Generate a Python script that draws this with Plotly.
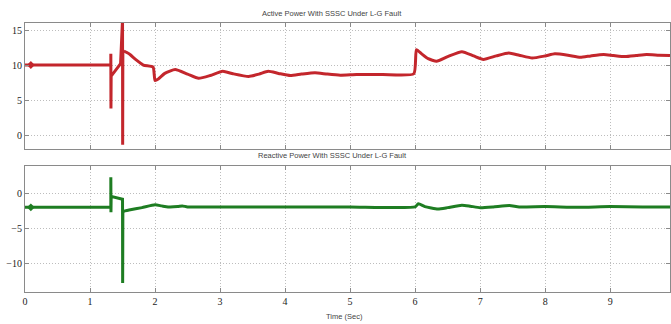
import plotly.graph_objects as go
from plotly.subplots import make_subplots

# Active power (top panel)
t_active = [0, 1.32, 1.32, 1.322, 1.325, 1.47, 1.50, 1.502, 1.505, 1.52, 1.6, 1.7, 1.82, 1.97,
            2.0, 2.05, 2.15, 2.31, 2.5, 2.67, 2.85, 3.04, 3.2, 3.44, 3.6, 3.74, 3.9, 4.08, 4.25,
            4.46, 4.65, 4.85, 5.1, 5.5, 5.98, 6.02, 6.1, 6.2, 6.33, 6.5, 6.72, 6.9, 7.05, 7.25,
            7.44, 7.6, 7.8, 8.0, 8.15, 8.35, 8.54, 8.7, 8.9, 9.05, 9.23, 9.4, 9.56, 9.75, 9.92]
p_active = [10, 10, 11.6, 3.8, 8.4, 10.2, 16.5, -1.4, 12.0, 12.0, 11.6, 10.8, 10.0, 9.7,
            7.8, 8.0, 8.8, 9.35, 8.7, 8.1, 8.5, 9.1, 8.75, 8.37, 8.7, 9.1, 8.8, 8.5, 8.7,
            8.9, 8.7, 8.55, 8.65, 8.65, 8.75, 12.2, 11.6, 10.9, 10.55, 11.2, 11.9, 11.3, 10.8, 11.3,
            11.7, 11.4, 11.0, 11.3, 11.6, 11.4, 11.1, 11.3, 11.5, 11.35, 11.2, 11.35, 11.5, 11.4, 11.35]

# Reactive power (bottom panel)
t_reactive = [0, 1.32, 1.32, 1.322, 1.325, 1.35, 1.48, 1.50, 1.502, 1.505, 1.6, 1.8, 2.0, 2.1,
              2.2, 2.35, 2.42, 2.5, 3.0, 4.0, 5.0, 6.0, 6.05, 6.15, 6.35, 6.5, 6.72, 6.85, 7.0,
              7.2, 7.45, 7.6, 8.0, 8.5, 9.0, 9.5, 9.92]
q_reactive = [-1.9, -1.9, 2.4, -2.6, -0.5, -0.4, -0.75, -0.75, -12.7, -2.5, -2.3, -1.95, -1.55, -1.7,
              -1.85, -1.8, -1.7, -1.85, -1.85, -1.85, -1.85, -1.85, -1.4, -1.8, -2.15, -1.95, -1.6, -1.75, -1.95,
              -1.85, -1.65, -1.85, -1.8, -1.9, -1.8, -1.85, -1.85]

x_ticks = [0, 1, 2, 3, 4, 5, 6, 7, 8, 9, 10]
top_yticks = [0, 5, 10, 15]
bot_yticks = [-10, -5, 0]

titles = ["Active Power With SSSC Under L-G Fault", "Reactive Power With SSSC Under L-G Fault"]
x_title = "Time (Sec)"

RED = "#c3262c"
GREEN = "#1e7d22"

# fault transients are drawn with straight segments, the recovery with a smooth curve
SPLIT_A = 9
SPLIT_R = 9

fig = make_subplots(rows=2, cols=1, shared_xaxes=False)
fig.add_trace(go.Scatter(x=t_active[:SPLIT_A + 1], y=p_active[:SPLIT_A + 1], mode="lines",
                         line=dict(color=RED, width=3)), row=1, col=1)
fig.add_trace(go.Scatter(x=t_active[SPLIT_A:], y=p_active[SPLIT_A:], mode="lines",
                         line=dict(color=RED, width=3, shape="spline", smoothing=0.5)), row=1, col=1)
fig.add_trace(go.Scatter(x=[0.09], y=[p_active[0]], mode="markers",
                         marker=dict(symbol="diamond", size=6, color=RED)), row=1, col=1)
fig.add_trace(go.Scatter(x=t_reactive[:SPLIT_R + 1], y=q_reactive[:SPLIT_R + 1], mode="lines",
                         line=dict(color=GREEN, width=3)), row=2, col=1)
fig.add_trace(go.Scatter(x=t_reactive[SPLIT_R:], y=q_reactive[SPLIT_R:], mode="lines",
                         line=dict(color=GREEN, width=3, shape="spline", smoothing=0.5)), row=2, col=1)
fig.add_trace(go.Scatter(x=[0.09], y=[q_reactive[0]], mode="markers",
                         marker=dict(symbol="diamond", size=6, color=GREEN)), row=2, col=1)

axis_common = dict(showline=True, linecolor="#8a8a8a", linewidth=1, mirror="ticks",
                   ticks="inside", ticklen=4, tickcolor="#8a8a8a",
                   showgrid=True, gridcolor="#bdbdbd", griddash="1px,2px", gridwidth=1,
                   zeroline=False,
                   tickfont=dict(family="Liberation Serif", size=10, color="#222"))

fig.update_xaxes(range=[0, 9.92], tickvals=x_ticks, **axis_common)
fig.update_xaxes(showticklabels=False, row=1, col=1)
fig.update_yaxes(range=[-2, 16], tickvals=top_yticks, row=1, col=1, **axis_common)
fig.update_yaxes(range=[-14, 4], tickvals=bot_yticks, row=2, col=1, **axis_common)

fig.update_layout(
    width=671, height=324,
    margin=dict(l=25, r=1, t=23, b=32),
    paper_bgcolor="white", plot_bgcolor="white",
    showlegend=False,
    xaxis=dict(domain=[0, 1]), xaxis2=dict(domain=[0, 1]),
    yaxis=dict(domain=[0.5315, 1.0]), yaxis2=dict(domain=[0.0, 0.4685]),
)

title_font = dict(family="Liberation Sans", size=7.5, color="#444")
fig.add_annotation(text=titles[0], xref="paper", yref="paper", x=0.476, y=1.034,
                   yanchor="middle", showarrow=False, font=title_font)
fig.add_annotation(text=titles[1], xref="paper", yref="paper", x=0.476, y=0.5056,
                   yanchor="middle", showarrow=False, font=title_font)
fig.add_annotation(text=x_title, xref="paper", yref="paper", x=0.496, y=-0.0916,
                   yanchor="middle", showarrow=False, font=title_font)

fig.write_html("out.html", config={"displayModeBar": False},
               post_script="document.body.style.margin='0px';document.body.style.overflow='hidden';")
